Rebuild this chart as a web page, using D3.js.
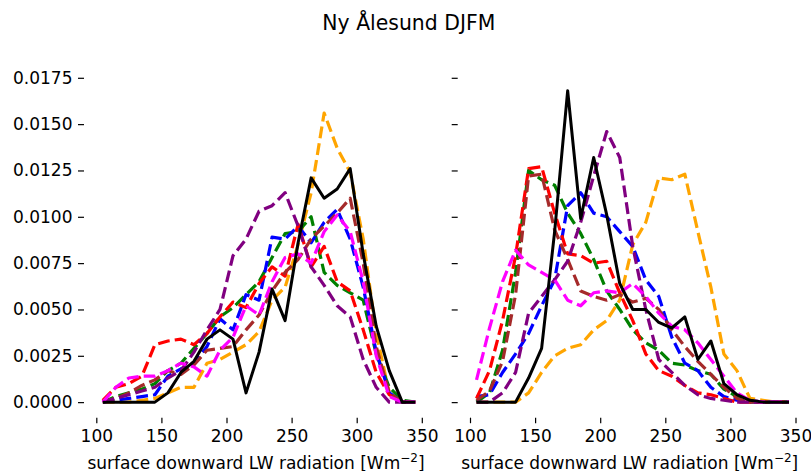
<!DOCTYPE html>
<html><head><meta charset="utf-8">
<script src="https://cdn.jsdelivr.net/npm/d3@7"></script>
<style>body{margin:0;background:#fff}svg{display:block}text{font-family:"DejaVu Sans",sans-serif;fill:#000}</style>
</head><body><svg id="c" width="811" height="471"></svg>
<script>
const binCenters = [105,115,125,135,145,155,165,175,185,195,205,215,225,235,245,255,265,275,285,295,305,315,325,335,345];
const xTicks = [100,150,200,250,300,350];
const yTicks = [0,0.0025,0.005,0.0075,0.01,0.0125,0.015,0.0175];
const titleText = "Ny Ålesund DJFM";
const xLabelText = "surface downward LW radiation [Wm";
const seriesNames = ["orange","green","blue","red","brown","purple","magenta","black"];

// left panel
const orangeL  = [0,0,0,0.0001,0.0002,0.0005,0.0008,0.0008,0.0021,0.0023,0.0027,0.0031,0.0038,0.0055,0.0062,0.0085,0.0113,0.0156,0.0137,0.0124,0.0088,0.0037,0.0005,0,0];
const greenL   = [0,0.0003,0.0005,0.0007,0.0010,0.0017,0.0021,0.0029,0.0037,0.0046,0.0051,0.0058,0.0065,0.0078,0.0091,0.0092,0.0100,0.0070,0.0063,0.0059,0.0055,0.0026,0.0008,0.0001,0];
const blueL    = [0,0.0001,0.0002,0.0003,0.0004,0.0014,0.0018,0.0021,0.0030,0.0045,0.0039,0.0058,0.0055,0.0089,0.0088,0.0095,0.0086,0.0097,0.0104,0.0088,0.0062,0.0027,0.0005,0,0];
const redL     = [0.0001,0.0008,0.0010,0.0014,0.0031,0.0033,0.0034,0.0031,0.0037,0.0046,0.0054,0.0051,0.0064,0.0073,0.0068,0.0096,0.0073,0.0084,0.0065,0.0060,0.0039,0.0016,0.0004,0,0];
const brownL   = [0,0.0002,0.0005,0.0009,0.0012,0.0017,0.0015,0.0020,0.0028,0.0029,0.0030,0.0039,0.0047,0.0060,0.0070,0.0077,0.0088,0.0095,0.0102,0.0110,0.0075,0.0030,0.0005,0,0];
const purpleL  = [0,0.0002,0.0004,0.0006,0.0008,0.0013,0.0017,0.0027,0.0039,0.0050,0.0079,0.0088,0.0103,0.0106,0.0113,0.0095,0.0073,0.0063,0.0052,0.0046,0.0023,0.0008,0,0,0];
const magentaL = [0,0.0008,0.0013,0.0014,0.0014,0.0017,0.0021,0.0019,0.0014,0.0028,0.0035,0.0052,0.0047,0.0065,0.0078,0.0080,0.0075,0.0092,0.0101,0.0092,0.0065,0.0025,0.0003,0,0];
const blackL   = [0,0,0,0,0,0.0005,0.0016,0.0022,0.0034,0.0039,0.0034,0.0005,0.0027,0.0061,0.0044,0.0086,0.0121,0.0110,0.0115,0.0126,0.0080,0.0041,0.0017,0,0];

// right panel
const orangeR  = [0,0,0,0,0.0005,0.0016,0.0025,0.0029,0.0031,0.0039,0.0044,0.0055,0.0085,0.0097,0.0121,0.0120,0.0123,0.0092,0.0062,0.0026,0.0017,0.0002,0.0001,0,0];
const greenR   = [0,0.0005,0.0028,0.0070,0.0125,0.0120,0.0117,0.0102,0.0091,0.0077,0.0060,0.0050,0.0039,0.0032,0.0028,0.0021,0.0020,0.0017,0.0015,0.0007,0.0003,0.0001,0,0,0];
const blueR    = [0.0003,0.0004,0.0016,0.0026,0.0037,0.0052,0.0066,0.0106,0.0113,0.0102,0.0100,0.0092,0.0084,0.0066,0.0057,0.0035,0.0021,0.0017,0.0008,0.0003,0.0001,0,0,0,0];
const redR     = [0.0002,0.0017,0.0044,0.0079,0.0126,0.0127,0.0102,0.0080,0.0079,0.0075,0.0076,0.0059,0.0044,0.0026,0.0017,0.0014,0.0009,0.0005,0.0004,0.0002,0,0,0,0,0];
const brownR   = [0.0001,0.0006,0.0022,0.0058,0.0122,0.0123,0.0093,0.0077,0.0060,0.0057,0.0055,0.0058,0.0054,0.0056,0.0050,0.0039,0.0030,0.0022,0.0015,0.0008,0.0002,0,0,0,0];
const purpleR  = [0,0,0.0005,0.0016,0.0048,0.0057,0.0066,0.0076,0.0097,0.0122,0.0146,0.0132,0.0084,0.0050,0.0023,0.0016,0.0009,0.0004,0.0002,0.0001,0,0,0,0,0];
const magentaR = [0.0012,0.0040,0.0065,0.0082,0.0074,0.0070,0.0066,0.0055,0.0052,0.0059,0.0060,0.0059,0.0064,0.0057,0.0048,0.0041,0.0039,0.0032,0.0023,0.0014,0.0005,0.0001,0,0,0];
const blackR   = [0,0,0,0,0.0013,0.0029,0.0092,0.0168,0.0099,0.0132,0.0101,0.0064,0.0050,0.0050,0.0043,0.0040,0.0046,0.0023,0.0033,0.0010,0.0004,0.0001,0,0,0];

const leftSeries  = [orangeL,greenL,blueL,redL,brownL,purpleL,magentaL,blackL];
const rightSeries = [orangeR,greenR,blueR,redR,brownR,purpleR,magentaR,blackR];

const svg = d3.select("#c");
const W = 344, plotTop = 75.2, plotBottom = 417.7;
const y = d3.scaleLinear().domain([-0.00084, 0.01764]).range([plotBottom, plotTop]);

svg.append("text").attr("x", 408.8).attr("y", 30).attr("text-anchor","middle")
  .style("font-size","20.4px").text(titleText);

function panel(x0, series, showYLabels){
  const x = d3.scaleLinear().domain([90.55, 90.55 + W/1.302]).range([x0, x0 + W]);
  const g = svg.append("g");
  const line = d3.line().x((d,i)=>x(binCenters[i])).y(d=>y(d));
  series.forEach((s,k)=>{
    const c = seriesNames[k];
    g.append("path").datum(s).attr("d", line).attr("fill","none")
      .attr("stroke", c).attr("stroke-width", c==="black" ? 3 : 3.2)
      .attr("stroke-dasharray", c==="black" ? null : "11.8,5.1")
      .attr("stroke-linejoin","round");
  });
  const ya = d3.axisLeft(y).tickValues(yTicks).tickSize(6).tickPadding(5.5)
    .tickFormat(showYLabels ? d3.format(".4f") : "");
  const yg = svg.append("g").attr("transform",`translate(${x0},0)`).call(ya);
  yg.select(".domain").remove();
  yg.selectAll("line").attr("stroke","#000").attr("stroke-width",1.2);
  yg.selectAll("text").style("font-size","17px").attr("font-family","DejaVu Sans");
  const xa = d3.axisBottom(x).tickValues(xTicks).tickSize(5.5).tickPadding(7).tickFormat(d3.format("d"));
  const xg = svg.append("g").attr("transform",`translate(0,${plotBottom})`).call(xa);
  xg.select(".domain").remove();
  xg.selectAll("line").attr("stroke","#000").attr("stroke-width",1.2);
  xg.selectAll("text").style("font-size","17px").attr("font-family","DejaVu Sans");
  const t = svg.append("text").attr("x", x0 + W/2).attr("y", 468.5).attr("text-anchor","middle")
    .style("font-size","17px");
  t.append("tspan").text(xLabelText);
  t.append("tspan").attr("dy", -7).style("font-size","12px").text("−2");
  t.append("tspan").attr("dy", 7).text("]");
}
panel(84, leftSeries, true);
panel(457.7, rightSeries, false);
</script></body></html>
